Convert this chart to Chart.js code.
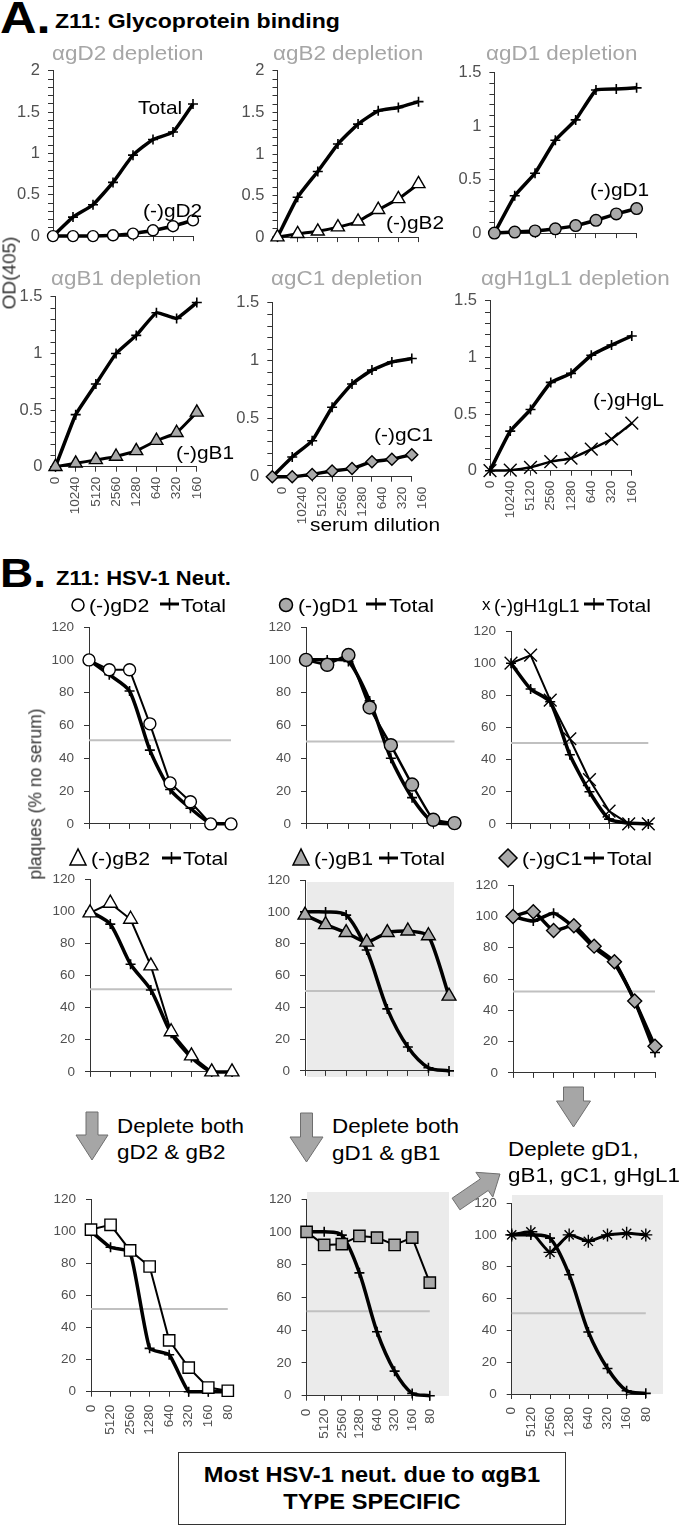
<!DOCTYPE html>
<html><head><meta charset="utf-8">
<script src="https://cdn.jsdelivr.net/npm/chart.js@4.4.1/dist/chart.umd.min.js"></script>
<style>
html,body{margin:0;padding:0;background:#fff;}
#fig{position:relative;width:680px;height:1526px;overflow:hidden;font-family:"Liberation Sans",Arial,sans-serif;background:#fff;}
.txt{position:absolute;white-space:nowrap;line-height:1;z-index:3;}
.bg{position:absolute;background:#ebebeb;z-index:1;}
#box{position:absolute;border:1.5px solid #333;background:#fff;z-index:3;}
svg{position:absolute;left:0;top:0;z-index:4;}
</style></head><body><div id="fig"></div>
<script>
// ---------- DATA ----------
const dilutionsA = ['0','10240','5120','2560','1280','640','320','160'];
const dilutionsB = ['0','5120','2560','1280','640','320','160','80'];
const ticksA2 = [0, 0.5, 1, 1.5, 2];

// A. Glycoprotein binding, OD(405)
const a1Total = [0, 0.23, 0.38, 0.65, 0.98, 1.17, 1.26, 1.6];
const a1gD2   = [0, 0, 0, 0.01, 0.03, 0.07, 0.12, 0.19];
const a2Total = [0, 0.48, 0.79, 1.12, 1.36, 1.52, 1.56, 1.63];
const a2gB2   = [0, 0.04, 0.07, 0.12, 0.19, 0.33, 0.46, 0.64];
const a3Total = [0, 0.35, 0.56, 0.87, 1.06, 1.34, 1.35, 1.36];
const a3gD1   = [0, 0.01, 0.02, 0.04, 0.07, 0.12, 0.18, 0.23];
const a4Total = [0, 0.46, 0.73, 1.0, 1.16, 1.36, 1.31, 1.45];
const a4gB1   = [0, 0.03, 0.06, 0.09, 0.14, 0.23, 0.30, 0.48];
const a5Total = [0, 0.17, 0.31, 0.6, 0.8, 0.92, 0.99, 1.02];
const a5gC1   = [0, 0, 0.02, 0.05, 0.07, 0.13, 0.15, 0.19];
const a6Total = [0, 0.35, 0.54, 0.78, 0.86, 1.02, 1.11, 1.19];
const a6gHgL  = [0, 0.005, 0.03, 0.08, 0.11, 0.19, 0.28, 0.42];

// B. HSV-1 neutralization, plaques (% no serum)
const b1gD2    = [100, 94, 94, 61, 25, 13.5, 0, 0];
const b1Total  = [100, 91, 81, 45, 21, 9.5, 0.4, 0];
const b2gD1    = [100, 97, 103, 71, 48, 24, 2.5, 0.5];
const b2Total  = [100, 100, 99, 75, 40, 16, 1, 0];
const b3gH1gL1 = [100, 105, 77, 53, 27.5, 8, 0, 0];
const b3Total  = [100, 84, 76, 43, 20, 3, 0.5, 0];
const b4gB2    = [99, 105, 95, 66, 25, 10, 0, 0];
const b4Total  = [100, 92, 67, 51, 24, 9, 0, 0];
const b5gB1    = [98, 92, 87, 81, 87, 88, 85, 47];
const b5Total  = [100, 100, 98, 76, 39, 15, 2, 0];
const b6gC1    = [100, 103, 91, 94, 81, 71, 46, 17];
const b6Total  = [100, 97, 102, 93, 80, 70, 46, 13];
const b7gD2gB2 = [101, 104, 88, 78, 32, 15, 2.6, 0.6];
const b7Total  = [100, 90, 87, 27, 23, 0, 0, 0];
const b8gD1gB1 = [100, 92, 92.5, 97.5, 96.5, 92, 96.5, 69];
const b8Total  = [100, 100, 98, 75, 39, 15, 1.4, 0];
const b9All    = [100, 102, 89, 100, 96, 100, 101, 100];
const b9Total  = [100, 100, 98, 75, 39, 16, 2, 0.4];
const halfLevel = [51, 50.3, 50.3, 51.4, 50.2, 52, 51.5, 51.6, 50.7];

// ---------- HELPERS ----------
const FONT = '"Liberation Sans", Arial, sans-serif';
Chart.defaults.font.family = FONT;
const FIG = document.getElementById('fig');
const GRAYFILL = '#a9a9a9';

function addText(txt, x, base, size, o = {}) {
  const d = document.createElement('div');
  d.className = 'txt';
  d.textContent = txt;
  d.style.fontSize = size + 'px';
  d.style.left = x + 'px';
  d.style.top = (base - 0.8465 * size) + 'px';
  d.style.color = o.color || '#000';
  if (o.bold) d.style.fontWeight = 'bold';
  const sx = o.sx || 1;
  let tf = '';
  if (o.center) tf += 'translateX(-50%) ';
  if (sx !== 1) tf += 'scaleX(' + sx + ')';
  d.style.transformOrigin = o.center ? 'center' : 'left';
  if (tf) d.style.transform = tf;
  FIG.appendChild(d);
}
function addRot(txt, cx, cy, size, color) {
  const d = document.createElement('div');
  d.className = 'txt';
  d.textContent = txt;
  d.style.fontSize = size + 'px';
  d.style.left = cx + 'px';
  d.style.top = cy + 'px';
  d.style.color = color || '#000';
  d.style.transform = 'translate(-50%,-50%) rotate(-90deg)';
  FIG.appendChild(d);
}
function addBg(l, t, r, b) {
  const d = document.createElement('div');
  d.className = 'bg';
  d.style.cssText += `left:${l}px;top:${t}px;width:${r - l}px;height:${b - t}px;`;
  FIG.appendChild(d);
}

function markerSet(data, style, fill, radius, lw, tension) {
  return { data, borderColor: '#000', borderWidth: lw, pointStyle: style, pointRadius: radius,
    pointBackgroundColor: fill, pointBorderColor: '#000', pointBorderWidth: 1.4,
    tension: tension || 0, clip: false, order: 0 };
}
function totalSet(data, lw, tension) {
  return { data, borderColor: '#000', borderWidth: lw, pointStyle: 'cross', pointRadius: 5,
    pointBorderColor: '#000', pointBorderWidth: 1.6, tension: tension, clip: false, order: 1 };
}
function refSet(level, n) {
  return { data: Array.from({ length: n }, () => level), borderColor: '#c0c0c0', borderWidth: 2,
    pointRadius: 0, clip: false, order: 2 };
}

function makePanel(p) {
  const yW = p.yW, xH = p.xH;
  const left = Math.floor(p.L - yW - 2);
  const top = Math.floor(p.T - 14);
  const width = Math.ceil(p.R + 14 - left);
  const height = Math.ceil(p.B + xH + 4 - top);
  const pad = { left: p.L - yW - left, top: p.T - top, right: left + width - p.R, bottom: top + height - p.B - xH };
  const cv = document.createElement('canvas');
  cv.width = width; cv.height = height;
  cv.style.cssText = `position:absolute;left:${left}px;top:${top}px;width:${width}px;height:${height}px;z-index:2;`;
  FIG.appendChild(cv);
  const axisCol = '#333';
  new Chart(cv.getContext('2d'), {
    type: 'line',
    data: { labels: p.labels, datasets: p.datasets },
    options: {
      responsive: false, animation: false, devicePixelRatio: 1, events: [],
      layout: { padding: pad },
      plugins: { legend: { display: false }, tooltip: { enabled: false } },
      scales: {
        x: {
          type: 'category', offset: false,
          grid: { drawOnChartArea: false, drawTicks: true, tickLength: 5, color: axisCol, lineWidth: 1 },
          border: { display: true, color: axisCol, width: 1 },
          ticks: { display: p.showX, minRotation: 90, maxRotation: 90, autoSkip: false,
            font: { size: 13.5, family: FONT }, color: '#505050', padding: p.xPad || 4, labelOffset: p.labelOffset || 0 },
          afterFit: (s) => { s.height = xH; }
        },
        y: {
          min: 0, max: p.ymax,
          grid: { drawOnChartArea: false, drawTicks: true, tickLength: 5, color: axisCol, lineWidth: 1 },
          border: { display: true, color: axisCol, width: 1 },
          ticks: { stepSize: p.step, maxTicksLimit: 100, autoSkip: false,
            font: { size: p.yFont, family: FONT }, color: '#505050', padding: p.yPad,
            callback: p.tickCb },
          afterFit: (s) => { s.width = yW; }
        }
      }
    }
  });
}

const cbA = (v) => {
  const hit = ticksA2.find(t => Math.abs(t - v) < 1e-6);
  return hit === undefined ? '' : String(hit);
};
const cbB = (v) => String(Math.round(v));

function panelA(L, T, R, B, ymax, showX, datasets, extra) {
  makePanel(Object.assign({ L, T, R, B, ymax, step: 0.1, tickCb: cbA, yFont: 16.5, yPad: 8, yW: 48,
    xH: showX ? 50 : 8, showX, labels: dilutionsA, datasets, xPad: 5 }, extra || {}));
}
function panelB(L, T, R, B, showX, datasets) {
  makePanel({ L, T, R, B, ymax: 120, step: 20, tickCb: cbB, yFont: 13.5, yPad: 10, yW: 44,
    xH: showX ? 50 : 8, showX, labels: dilutionsB, datasets, xPad: 8 });
}

// ---------- BACKGROUNDS ----------
addBg(307, 882, 454, 1077);
addBg(307, 1192, 449, 1396);
addBg(512, 1195, 663, 1394);

// ---------- PANELS A ----------
panelA(53, 67, 193, 241.7, 2, false, [markerSet(a1gD2, 'circle', '#fff', 5.5, 3.5, 0.1), totalSet(a1Total, 3.5, 0.15)]);
panelA(277.5, 67, 418.5, 242.7, 2, false, [markerSet(a2gB2, 'triangle', '#fff', 7.5, 3, 0.1), totalSet(a2Total, 3.5, 0.15)]);
panelA(494.4, 69, 636.6, 238.3, 1.5, false, [markerSet(a3gD1, 'circle', GRAYFILL, 5.8, 3.5, 0.1), totalSet(a3Total, 3.5, 0.1)]);
panelA(55.5, 293.3, 203.8, 466.7, 1.5, true, [markerSet(a4gB1, 'triangle', GRAYFILL, 7.5, 3, 0.1), totalSet(a4Total, 3.5, 0.1)]);
panelA(272.3, 299.3, 418.5, 476.7, 1.5, true, [markerSet(a5gC1, 'rectRot', GRAYFILL, 6, 3.5, 0.1), totalSet(a5Total, 3.5, 0.15)], { labelOffset: 10 });
panelA(490, 297.3, 638.3, 470.7, 1.5, true, [markerSet(a6gHgL, 'crossRot', '#000', 9, 2.5, 0.2), totalSet(a6Total, 3.5, 0.1)]);

// ---------- PANELS B ----------
panelB(89, 623.3, 231, 830, false, [markerSet(b1gD2, 'circle', '#fff', 6, 2, 0), totalSet(b1Total, 3.5, 0.25), refSet(halfLevel[0], 8)]);
panelB(306, 623.3, 454.5, 830, false, [markerSet(b2gD1, 'circle', GRAYFILL, 6.5, 2.5, 0.1), totalSet(b2Total, 3.5, 0.25), refSet(halfLevel[1], 8)]);
panelB(511, 627.3, 648.3, 830, false, [markerSet(b3gH1gL1, 'crossRot', '#000', 9, 2, 0), totalSet(b3Total, 3.5, 0.2), refSet(halfLevel[2], 8)]);
panelB(90, 875, 232, 1077.3, false, [markerSet(b4gB2, 'triangle', '#fff', 8, 2, 0), totalSet(b4Total, 3.5, 0.25), refSet(halfLevel[3], 8)]);
panelB(305, 876, 449, 1077, false, [markerSet(b5gB1, 'triangle', GRAYFILL, 8, 3.5, 0.2), totalSet(b5Total, 3.5, 0.3), refSet(halfLevel[4], 8)]);
panelB(513, 881.7, 655, 1079, false, [markerSet(b6gC1, 'rectRot', GRAYFILL, 7, 3.5, 0.2), totalSet(b6Total, 3.5, 0.2), refSet(halfLevel[5], 8)]);
panelB(91, 1195, 237.6, 1391.7, true, [markerSet(b7gD2gB2, 'rect', '#fff', 8, 2, 0), totalSet(b7Total, 3.5, 0.15), refSet(halfLevel[6], 8)]);
panelB(306.6, 1195, 439.3, 1395.7, true, [markerSet(b8gD1gB1, 'rect', GRAYFILL, 8, 2, 0), totalSet(b8Total, 3.5, 0.3), refSet(halfLevel[7], 8)]);
panelB(511.7, 1199, 655.7, 1394, true, [markerSet(b9All, 'star', '#000', 6.5, 3, 0.15), totalSet(b9Total, 3.5, 0.3), refSet(halfLevel[8], 8)]);

// ---------- TEXT ----------
const GT = '#a6a6a6';
addText('A.', 0, 33, 44, { bold: true, sx: 1.15 });
addText('Z11:  Glycoprotein binding', 55, 28, 21, { bold: true, sx: 1.1 });
addText('\u03B1gD2 depletion', 52, 61, 19.5, { color: GT, sx: 1.15 });
addText('\u03B1gB2 depletion', 273, 61, 19.5, { color: GT, sx: 1.15 });
addText('\u03B1gD1 depletion', 486, 61, 19.5, { color: GT, sx: 1.15 });
addText('\u03B1gB1 depletion', 51, 286, 19.5, { color: GT, sx: 1.15 });
addText('\u03B1gC1 depletion', 271, 286, 19.5, { color: GT, sx: 1.15 });
addText('\u03B1gH1gL1 depletion', 481, 286, 19.5, { color: GT, sx: 1.15 });
addText('Total', 138, 114, 19, { sx: 1.1 });
addText('(-)gD2', 143, 217, 19, { sx: 1.1 });
addText('(-)gB2', 386, 229, 19, { sx: 1.1 });
addText('(-)gD1', 590, 196, 19, { sx: 1.1 });
addText('(-)gB1', 176, 459, 19, { sx: 1.1 });
addText('(-)gC1', 374, 441, 19, { sx: 1.1 });
addText('(-)gHgL', 593, 406, 19, { sx: 1.1 });
addRot('OD(405)', 9, 273, 19, '#333');
addText('serum dilution', 310, 531, 19, { sx: 1.1 });

addText('B.', 0, 587, 40, { bold: true, sx: 1.15 });
addText('Z11: HSV-1 Neut.', 56, 585, 20, { bold: true, sx: 1.1 });
addRot('plaques (% no serum)', 36, 794, 17.5, '#333');

// legends row 1
addText('(-)gD2', 89, 612, 19, { sx: 1.12 });
addText('Total', 181, 612, 19, { sx: 1.12 });
addText('(-)gD1', 298, 612, 19, { sx: 1.12 });
addText('Total', 389, 612, 19, { sx: 1.12 });
addText('x', 482, 610, 17, {});
addText('(-)gH1gL1', 494, 612, 19, { sx: 1.0 });
addText('Total', 606, 612, 19, { sx: 1.12 });
// legends row 2
addText('(-)gB2', 91, 865, 19, { sx: 1.12 });
addText('Total', 183, 865, 19, { sx: 1.12 });
addText('(-)gB1', 314, 865, 19, { sx: 1.12 });
addText('Total', 400, 865, 19, { sx: 1.12 });
addText('(-)gC1', 522, 865, 19, { sx: 1.12 });
addText('Total', 607, 865, 19, { sx: 1.12 });

// arrows text
addText('Deplete both', 117, 1133, 20, { sx: 1.12 });
addText('gD2 & gB2', 117, 1159, 20, { sx: 1.12 });
addText('Deplete both', 332, 1133, 20, { sx: 1.12 });
addText('gD1 & gB1', 332, 1160, 20, { sx: 1.12 });
addText('Deplete gD1,', 508, 1156, 20, { sx: 1.12 });
addText('gB1, gC1, gHgL1', 508, 1182, 20, { sx: 1.12 });

// conclusion box
const box = document.createElement('div');
box.id = 'box';
box.style.cssText += 'left:178px;top:1452px;width:386px;height:71px;';
FIG.appendChild(box);
addText('Most HSV-1 neut. due to \u03B1gB1', 372, 1483, 21.5, { bold: true, center: true, sx: 1.1 });
addText('TYPE SPECIFIC', 372, 1510, 21.5, { bold: true, center: true, sx: 1.1 });

// ---------- SVG decorations: legend symbols & arrows ----------
function totalSym(x1, x2, y) {
  const xm = (x1 + x2) / 2;
  return `<line x1="${x1}" y1="${y}" x2="${x2}" y2="${y}" stroke="#000" stroke-width="3"/>` +
         `<line x1="${xm}" y1="${y - 6}" x2="${xm}" y2="${y + 6}" stroke="#000" stroke-width="1.6"/>`;
}
function downArrow(cx, top, neck, tip, shaftHalf, headHalf) {
  const pts = [[cx - shaftHalf, top], [cx + shaftHalf, top], [cx + shaftHalf, neck], [cx + headHalf, neck],
    [cx, tip], [cx - headHalf, neck], [cx - shaftHalf, neck]];
  return `<polygon points="${pts.map(p => p.join(',')).join(' ')}" fill="#a6a6a6" stroke="#6e6e6e" stroke-width="1"/>`;
}
function dirArrow(x0, y0, x1, y1, shaftHalf, headHalf, headLen) {
  const dx = x1 - x0, dy = y1 - y0, L = Math.hypot(dx, dy);
  const ux = dx / L, uy = dy / L, nx = -uy, ny = ux;
  const nkx = x1 - ux * headLen, nky = y1 - uy * headLen;
  const pts = [[x0 + nx * shaftHalf, y0 + ny * shaftHalf], [nkx + nx * shaftHalf, nky + ny * shaftHalf],
    [nkx + nx * headHalf, nky + ny * headHalf], [x1, y1], [nkx - nx * headHalf, nky - ny * headHalf],
    [nkx - nx * shaftHalf, nky - ny * shaftHalf], [x0 - nx * shaftHalf, y0 - ny * shaftHalf]];
  return `<polygon points="${pts.map(p => p.map(v => v.toFixed(1)).join(',')).join(' ')}" fill="#a6a6a6" stroke="#6e6e6e" stroke-width="1"/>`;
}
let svg = `<svg width="680" height="1526" xmlns="http://www.w3.org/2000/svg">`;
// row 1 legend symbols
svg += `<circle cx="78" cy="605" r="6" fill="#fff" stroke="#000" stroke-width="1.5"/>`;
svg += totalSym(160, 179, 604);
svg += `<circle cx="286" cy="605" r="6.5" fill="${GRAYFILL}" stroke="#000" stroke-width="1.5"/>`;
svg += totalSym(366, 386, 604);
svg += totalSym(584, 604, 604);
// row 2 legend symbols
svg += `<polygon points="78,849 70,865 86,865" fill="#fff" stroke="#000" stroke-width="1.5"/>`;
svg += totalSym(162, 181, 858);
svg += `<polygon points="301,849 293,865 309,865" fill="${GRAYFILL}" stroke="#000" stroke-width="1.5"/>`;
svg += totalSym(379, 398, 858);
svg += `<polygon points="508,849 517,858 508,867 499,858" fill="${GRAYFILL}" stroke="#000" stroke-width="1.5"/>`;
svg += totalSym(584, 604, 858);
// arrows
svg += downArrow(92, 1112, 1135, 1160, 6, 16);
svg += downArrow(306.5, 1113, 1137, 1162, 6, 16.5);
svg += downArrow(573.5, 1087, 1101, 1127, 10, 17);
svg += dirArrow(456, 1204, 500, 1174, 7, 15, 19);
svg += `</svg>`;
const holder = document.createElement('div');
holder.innerHTML = svg;
FIG.appendChild(holder.firstChild);
</script>
</body></html>
